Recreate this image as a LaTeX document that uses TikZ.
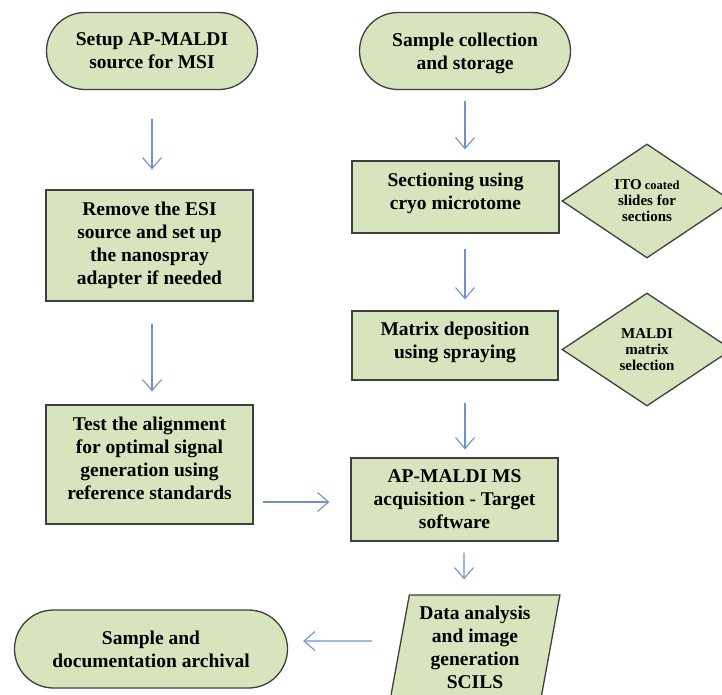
\documentclass[tikz,border=0pt]{standalone}
\usepackage{fontspec}
\setmainfont{Liberation Serif}
\usetikzlibrary{shapes.misc,shapes.geometric,arrows.meta,calc}
\definecolor{boxfill}{HTML}{D7E4BD}
\definecolor{boxline}{HTML}{3F3F3F}
\definecolor{arrowblue}{HTML}{6C93CB}
\tikzset{
  base/.style={draw=boxline, line width=1.3pt, fill=boxfill, align=center,
    font=\bfseries\fontsize{19.5}{23}\selectfont, inner sep=2pt},
  term/.style={base, rounded rectangle, text depth=0pt},
  procbox/.style={base, rectangle},
  decision/.style={base, diamond, aspect=1.5, inner sep=0pt,
    font=\bfseries\fontsize{15}{16}\selectfont},
  iobox/.style={base, trapezium, trapezium left angle=79, trapezium right angle=101,
    trapezium stretches=true},
  arr/.style={draw=arrowblue, line width=1.1pt,
    -{Straight Barb[length=11pt,width=19pt,line width=1.1pt]}}
}
\begin{document}
\begin{tikzpicture}[x=1pt,y=-1pt]
\useasboundingbox (0,0) rectangle (722,694);
\node[term, minimum width=215, minimum height=77] (setup) at (152,51)
  {Setup AP-MALDI\\source for MSI};
\node[term, minimum width=215, minimum height=77] (sample) at (465,51)
  {Sample collection\\and storage};
\node[procbox, minimum width=207, minimum height=111] (remove) at (149.5,245.5)
  {Remove the ESI\\source and set up\\the nanospray\\adapter if needed};
\node[procbox, minimum width=207, minimum height=119, text depth=13pt] (test) at (149.5,464.5)
  {Test the alignment\\for optimal signal\\generation using\\reference standards};
\node[procbox, minimum width=207, minimum height=72, text depth=12pt] (sect) at (455.5,197)
  {Sectioning using\\cryo microtome};
\node[procbox, minimum width=206, minimum height=69, text depth=10pt] (matrix) at (455,345.5)
  {Matrix deposition\\using spraying};
\node[procbox, minimum width=207, minimum height=83] (apms) at (454.5,499.5)
  {AP-MALDI MS\\acquisition - Target\\software};
\node[decision, minimum width=170, minimum height=114] (ito) at (647,201)
  {ITO{\fontsize{12.5}{16}\selectfont\ coated}\\slides for\\sections};
\node[decision, minimum width=170, minimum height=113] (maldi) at (647,349.5)
  {MALDI\\matrix\\selection};
\node[iobox, minimum width=170, minimum height=105] (data) at (475,647.5)
  {Data analysis\\and image\\generation\\SCILS};
\node[term, minimum width=277, minimum height=78, text depth=-2pt] (arch) at (151,649)
  {Sample and\\documentation archival};

\draw[arr] ($(setup.south)+(0,28.5)$) -- ($(remove.north)+(2.5,-20)$);
\draw[arr] ($(remove.south)+(2.5,22)$) -- ($(test.north)+(2.5,-13)$);
\draw[arr] ($(test.east)+(9,37.5)$) -- ($(apms.west)+(-21,2.5)$);
\draw[arr] ($(sample.south)+(0,10.5)$) -- ($(sect.north)+(9.5,-11)$);
\draw[arr] ($(sect.south)+(9.5,15)$) -- ($(matrix.north)+(10,-11)$);
\draw[arr] ($(matrix.south)+(10,22)$) -- ($(apms.north)+(10.5,-8)$);
\draw[arr] ($(apms.south)+(9.5,11)$) -- ($(data.north)+(-11,-15)$);
\draw[arr] ($(data.west)+(-27,-6.5)$) -- ($(arch.east)+(15,-8)$);
\end{tikzpicture}
\end{document}
